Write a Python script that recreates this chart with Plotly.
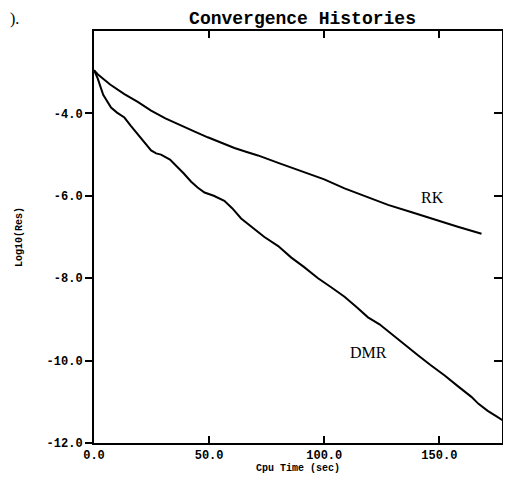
import plotly.graph_objects as go

# Data (Cpu Time in sec, Log10 residual)
rk_time = [0.0, 1.6, 7.0, 13.2, 19.0, 24.8, 31.0, 37.8, 44.0, 49.4, 55.0, 61.0, 66.0, 71.2,
           80.0, 90.0, 100.0, 108.8, 118.0, 127.7, 138.0, 148.0, 158.0, 168.3]
rk_res = [-2.95, -3.05, -3.30, -3.53, -3.72, -3.93, -4.12, -4.30, -4.45, -4.58, -4.71, -4.84,
          -4.93, -5.02, -5.20, -5.40, -5.60, -5.82, -6.02, -6.22, -6.40, -6.58, -6.75, -6.92]

dmr_time = [0.0, 1.6, 4.0, 7.4, 10.0, 13.2, 16.0, 19.0, 22.0, 24.8, 27.0, 29.1, 33.0, 36.3,
            39.0, 42.2, 45.0, 48.0, 52.0, 56.6, 60.0, 63.9, 69.0, 74.0, 80.0, 85.7, 91.0,
            97.3, 103.0, 108.8, 114.0, 119.0, 124.0, 129.0, 135.0, 140.7, 146.0, 152.3,
            158.0, 163.9, 167.0, 171.0, 175.0, 179.5]
dmr_res = [-2.95, -3.15, -3.55, -3.86, -3.98, -4.10, -4.30, -4.50, -4.72, -4.90, -4.97, -5.00,
           -5.12, -5.30, -5.46, -5.66, -5.80, -5.92, -6.00, -6.12, -6.30, -6.55, -6.78, -7.00,
           -7.22, -7.50, -7.72, -8.00, -8.22, -8.45, -8.70, -8.95, -9.12, -9.35, -9.62,
           -9.87, -10.10, -10.36, -10.62, -10.88, -11.05, -11.22, -11.36, -11.52]

x_ticks = [0, 50, 100, 150]
x_tick_labels = ["0.0", "50.0", "100.0", "150.0"]
y_ticks = [-12, -10, -8, -6, -4]
y_tick_labels = ["-12.0", "-10.0", "-8.0", "-6.0", "-4.0"]

mono = "Liberation Mono"
serif = "Liberation Serif"

fig = go.Figure()
fig.add_trace(go.Scatter(x=rk_time, y=rk_res, mode="lines", name="RK",
                         line=dict(color="black", width=2), yaxis="y"))
fig.add_trace(go.Scatter(x=dmr_time, y=dmr_res, mode="lines", name="DMR",
                         line=dict(color="black", width=2), yaxis="y2"))

fig.add_annotation(x=147, y=-6.05, text="RK", showarrow=False,
                   font=dict(family=serif, size=16, color="black"))
fig.add_annotation(x=119, y=-9.8, text="DMR", showarrow=False,
                   font=dict(family=serif, size=16, color="black"))
fig.add_annotation(x=0, y=1, xref="paper", yref="paper", xanchor="left", yanchor="top",
                   xshift=-86, yshift=23, text=").", showarrow=False,
                   font=dict(family=serif, size=16, color="black"))

fig.update_layout(
    width=495, height=467,
    margin=dict(l=86, r=1, t=23, b=32, autoexpand=False),
    paper_bgcolor="white", plot_bgcolor="white",
    showlegend=False,
    title=dict(text="<b>Convergence Histories</b>", x=0.595, xanchor="center",
               y=0.98, yanchor="middle",
               font=dict(family=mono, size=18, color="black")),
    xaxis=dict(range=[0, 177.2], tickvals=x_ticks,
               ticktext=["<b>%s</b>" % t for t in x_tick_labels],
               ticks="inside", ticklen=7, tickwidth=1.5, tickcolor="black",
               showline=True, linecolor="black", linewidth=2, mirror="ticks",
               showgrid=False, zeroline=False, automargin=False,
               tickfont=dict(family=mono, size=12, color="black"),
               title=dict(text="<b>Cpu Time (sec)</b>", standoff=2,
                          font=dict(family=mono, size=10, color="black"))),
    yaxis=dict(range=[-12, -2], tickvals=y_ticks,
               ticktext=["<b>%s</b>" % t for t in y_tick_labels],
               ticks="outside", ticklen=7, tickwidth=1.5, tickcolor="black",
               showline=True, linecolor="black", linewidth=2, mirror=True,
               showgrid=False, zeroline=False, automargin=False,
               tickfont=dict(family=mono, size=12, color="black"),
               title=dict(text="<b>Log10(Res)</b>", standoff=22,
                          font=dict(family=mono, size=10, color="black"))),
    yaxis2=dict(matches="y", overlaying="y", side="right", tickvals=y_ticks,
                ticks="inside", ticklen=8, tickwidth=1.5, tickcolor="black",
                showticklabels=False, showline=False, showgrid=False, zeroline=False),
)

fig.write_html("out.html")
